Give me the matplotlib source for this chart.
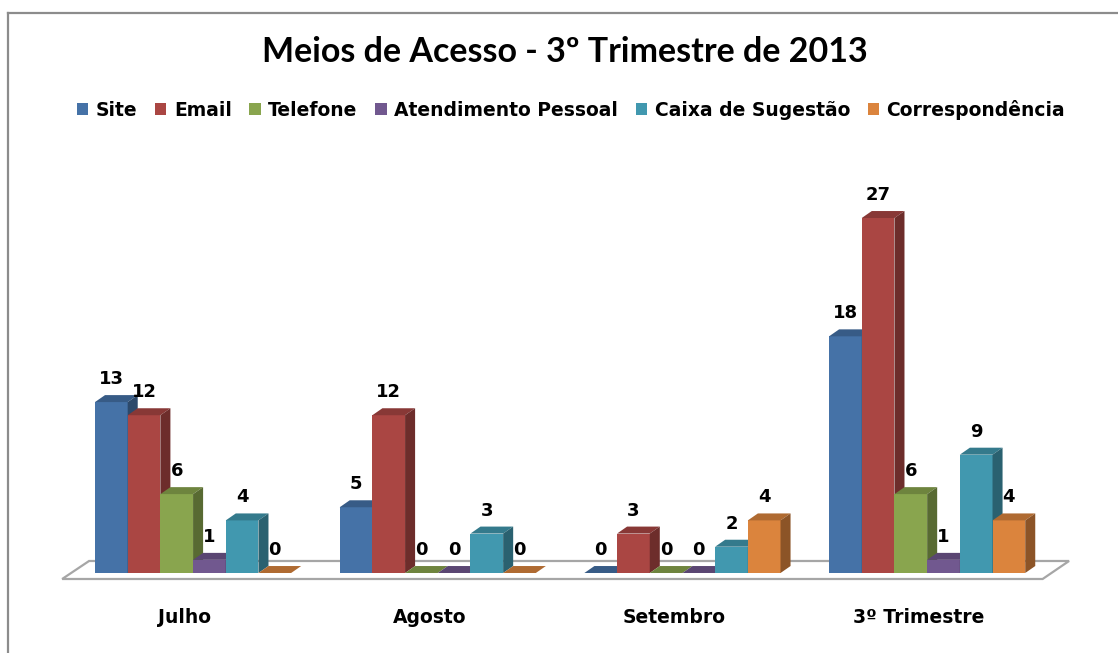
import matplotlib
matplotlib.use("Agg")
import matplotlib.pyplot as plt
from matplotlib.patches import Polygon, Patch
from matplotlib.lines import Line2D
import numpy as np

# ---- data ----
categories = ["Julho", "Agosto", "Setembro", "3º Trimestre"]
series_names = ["Site", "Email", "Telefone", "Atendimento Pessoal",
                "Caixa de Sugestão", "Correspondência"]
site = [13, 5, 0, 18]
email = [12, 12, 3, 27]
telefone = [6, 0, 0, 6]
atendimento = [1, 0, 0, 1]
caixa = [4, 3, 2, 9]
correspondencia = [0, 0, 4, 4]
series_values = [site, email, telefone, atendimento, caixa, correspondencia]

colors = ["#4572A7", "#AA4643", "#89A54E", "#71588F", "#4198AF", "#DB843D"]
title = "Meios de Acesso - 3º Trimestre de 2013"

TFONT = "Lato"
FONT = "DejaVu Sans"

W, H = 1118, 653
fig = plt.figure(figsize=(W / 100, H / 100), dpi=100)
ax = fig.add_axes([0, 0, 1, 1])
ax.set_xlim(-0.789, 3.780)
ax.set_ylim(-6.085, 43.58)
ax.axis("off")

bw = 0.1336          # bar width (category units)
ddx = 0.041          # depth offset x
ddy = 0.53           # depth offset y


def shade(c, f):
    r, g, b = matplotlib.colors.to_rgb(c)
    return (r * f, g * f, b * f)


# floor
floor = Polygon([(-0.535, -0.456), (3.472, -0.456), (3.580, 0.913), (-0.425, 0.913)],
                closed=True, facecolor="white", edgecolor="#a6a6a6", lw=1.6, zorder=1)
ax.add_patch(floor)

x = np.arange(len(categories))
n = len(series_names)
for j, (name, vals, col) in enumerate(zip(series_names, series_values, colors)):
    lefts = x - n * bw / 2 + j * bw
    z = 10 + 3 * j
    ax.bar(lefts, vals, width=bw, align="edge", color=col, edgecolor="none",
           zorder=z)
    for L, v in zip(lefts, vals):
        R = L + bw
        top = Polygon([(L, v), (R, v), (R + ddx, v + ddy), (L + ddx, v + ddy)],
                      closed=True, facecolor=shade(col, 0.80), edgecolor="none", zorder=z + 1)
        ax.add_patch(top)
        if v > 0:
            side = Polygon([(R, 0), (R + ddx, ddy), (R + ddx, v + ddy), (R, v)],
                           closed=True, facecolor=shade(col, 0.64), edgecolor="none", zorder=z + 2)
            ax.add_patch(side)
        ax.text(L + bw / 2, v + 1.75, f"{v}", ha="center", va="center",
                fontsize=13, fontweight="bold", family=FONT, color="black", zorder=40)

# category labels
for i, c in enumerate(categories):
    ax.text(i - 0.035, -3.35, c, ha="center", va="center", fontsize=13.5,
            fontweight="bold", family=FONT, color="black")

# title
fig.text(565 / W, 1 - 52 / H, title, ha="center", va="center", fontsize=24.5,
         fontweight="bold", family=TFONT, color="black")

# legend
handles = [Patch(facecolor=c, edgecolor="none") for c in colors]
fig.legend(handles, series_names, loc="center", bbox_to_anchor=(571 / W, 1 - 110 / H),
           ncol=6, frameon=False, handlelength=0.6, handleheight=0.6,
           handletextpad=0.4, columnspacing=0.95,
           prop={"family": FONT, "weight": "bold", "size": 13.5})

# outer frame (top and left borders)
fig.add_artist(Line2D([8 / W, 1.0], [1 - 12.5 / H, 1 - 12.5 / H], color="#8c8c8c", lw=1.6))
fig.add_artist(Line2D([8 / W, 8 / W], [0, 1 - 12.5 / H], color="#8c8c8c", lw=1.6))

fig.savefig("out.png", dpi=100)
